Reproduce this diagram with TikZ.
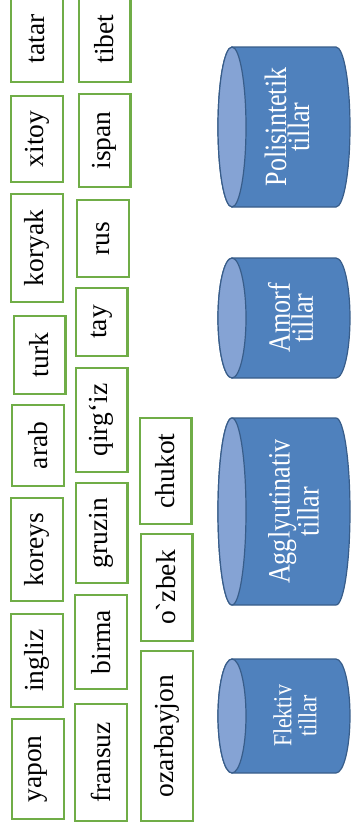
\documentclass[tikz,border=0pt]{standalone}
\usepackage{fontspec}
\setmainfont{Liberation Serif}
\newfontfamily\barrelfont[FakeStretch=0.84]{Liberation Serif}
\usepackage{xcolor}
\usepackage{tikz}
\definecolor{langgreen}{RGB}{112,173,71}
\definecolor{barrelblue}{RGB}{79,129,189}
\definecolor{barrellight}{RGB}{133,163,212}
\definecolor{barrelline}{RGB}{56,93,138}

\begin{document}
\begin{tikzpicture}[x=1pt, y=-1pt,
    lang/.style={draw=langgreen, line width=2.4pt, fill=white, rotate=90, inner sep=0pt,
        minimum height=51.6pt, font=\fontsize{27.5}{30}\selectfont},
    barrel/.style={fill=barrelblue, draw=barrelline, line width=1.2pt},
    barrelface/.style={fill=barrellight, draw=barrelline, line width=1.2pt},
    barreltext/.style={rotate=90, text=white, align=center, inner sep=0pt,
        font=\barrelfont\fontsize{31}{23}\selectfont}]

    \useasboundingbox (0,0) rectangle (353,838);
    \clip (0,0) rectangle (353,838);

    % first column
    \node[lang, minimum width=85.6pt] (tatar) at (37,39) {tatar};
    \node[lang, minimum width=85.6pt] (xitoy) at (37,139) {xitoy};
    \node[lang, minimum width=107.6pt] (koryak) at (37,248) {koryak};
    \node[lang, minimum width=77.6pt] (turk) at (39.5,355) {turk};
    \node[lang, minimum width=80.6pt] (arab) at (38,445.5) {arab};
    \node[lang, minimum width=102.6pt] (koreys) at (37,549.5) {koreys};
    \node[lang, minimum width=92.6pt] (ingliz) at (37,660.5) {ingliz};
    \node[lang, minimum width=99.6pt] (yapon) at (38,769) {yapon};

    % second column
    \node[lang, minimum width=85.6pt] (tibet) at (104.5,39) {tibet};
    \node[lang, minimum width=92.6pt] (ispan) at (104.5,140.5) {ispan};
    \node[lang, minimum width=76.6pt] (rus) at (103,238.5) {rus};
    \node[lang, minimum width=67.6pt] (tay) at (101.5,322) {tay};
    \node[lang, minimum width=103.6pt] (qirgiz) at (101.5,420) {qirg‘iz};
    \node[lang, minimum width=99.6pt] (gruzin) at (101.5,533) {gruzin};
    \node[lang, minimum width=93.6pt] (birma) at (101,642) {birma};
    \node[lang, minimum width=116.6pt] (fransuz) at (101,762.5) {fransuz};

    % third column
    \node[lang, minimum width=105.6pt] (chukot) at (165.5,471) {chukot};
    \node[lang, minimum width=106.6pt] (ozbek) at (166.5,587.5) {o\textasciigrave zbek};
    \node[lang, minimum width=169.6pt] (ozarbayjon) at (167,736) {ozarbayjon};

    % cylinders
    \filldraw[barrel] (232,47) -- (336,47) arc[start angle=-90, end angle=90, x radius=14, y radius=80]
        -- (232,207) arc[start angle=90, end angle=270, x radius=14, y radius=80] -- cycle;
    \filldraw[barrelface] (232,127) ellipse[x radius=14, y radius=80];
    \node[barreltext] (poli) at (287,127) {Polisintetik\\tillar};

    \filldraw[barrel] (232,258) -- (336,258) arc[start angle=-90, end angle=90, x radius=14, y radius=60]
        -- (232,378) arc[start angle=90, end angle=270, x radius=14, y radius=60] -- cycle;
    \filldraw[barrelface] (232,318) ellipse[x radius=14, y radius=60];
    \node[barreltext] (amorf) at (290.5,318) {Amorf\\tillar};

    \filldraw[barrel] (232,418) -- (336,418) arc[start angle=-90, end angle=90, x radius=14, y radius=93.5]
        -- (232,605) arc[start angle=90, end angle=270, x radius=14, y radius=93.5] -- cycle;
    \filldraw[barrelface] (232,511.5) ellipse[x radius=14, y radius=93.5];
    \node[barreltext, font=\barrelfont\fontsize{31}{25}\selectfont] (aggl) at (293.5,511.5) {Agglyutinativ\\tillar};

    \filldraw[barrel] (232,659) -- (336,659) arc[start angle=-90, end angle=90, x radius=14, y radius=57]
        -- (232,773) arc[start angle=90, end angle=270, x radius=14, y radius=57] -- cycle;
    \filldraw[barrelface] (232,716) ellipse[x radius=14, y radius=57];
    \node[barreltext, font=\barrelfont\fontsize{26}{25}\selectfont] (flektiv) at (295,716) {Flektiv\\tillar};
\end{tikzpicture}
\end{document}
